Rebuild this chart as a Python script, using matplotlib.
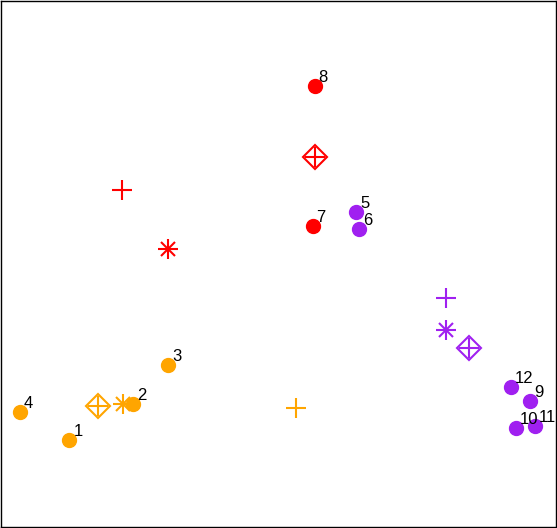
import matplotlib.pyplot as plt

# site scores (plot units, y grows downward)
labels = ["1", "2", "3", "4", "5", "6", "7", "8", "9", "10", "11", "12"]
xs = [69, 133, 168, 19, 357, 360, 313, 315, 531, 517, 536, 512]
ys = [440, 404, 365, 412, 212, 229, 226, 85, 401, 428, 426, 387]
groups = ["a", "a", "a", "a", "c", "c", "b", "b", "c", "c", "c", "c"]

group_colors = {"a": "orange", "b": "red", "c": "#A020F0"}

# group centres: plus, asterisk, diamond-plus
plus_x = {"a": 296, "b": 122, "c": 447}
plus_y = {"a": 408, "b": 190, "c": 298}
star_x = {"a": 123, "b": 168, "c": 447}
star_y = {"a": 404, "b": 249, "c": 330}
diam_x = {"a": 98, "b": 315, "c": 470}
diam_y = {"a": 406, "b": 156, "c": 348}

fig = plt.figure(figsize=(5.57, 5.28), dpi=100)
ax = fig.add_axes([0.001, 0.001, 0.997, 0.997])

for g, col in group_colors.items():
    ax.plot(plus_x[g], plus_y[g], marker="+", color=col, markersize=15, mew=1.5, ls="none")
    ax.plot(star_x[g], star_y[g], marker="+", color=col, markersize=14, mew=1.5, ls="none")
    ax.plot(star_x[g], star_y[g], marker="x", color=col, markersize=10, mew=1.5, ls="none")
    ax.plot(diam_x[g], diam_y[g], marker="D", color=col, mfc="none", markersize=12, mew=1.5, ls="none")
    ax.plot(diam_x[g], diam_y[g], marker="+", color=col, markersize=15, mew=1.5, ls="none")

for x, y, g, lab in zip(xs, ys, groups, labels):
    ax.plot(x, y, "o", color=group_colors[g], markersize=10, ls="none")
    ax.text(x + 4, y - 4, lab, fontsize=12, family="Liberation Sans",
            color="black", ha="left", va="baseline")

ax.set_xlim(0, 557)
ax.set_ylim(528, 0)
ax.set_xticks([])
ax.set_yticks([])
for s in ax.spines.values():
    s.set_linewidth(1)
    s.set_color("black")

fig.savefig("out.png", dpi=100)
